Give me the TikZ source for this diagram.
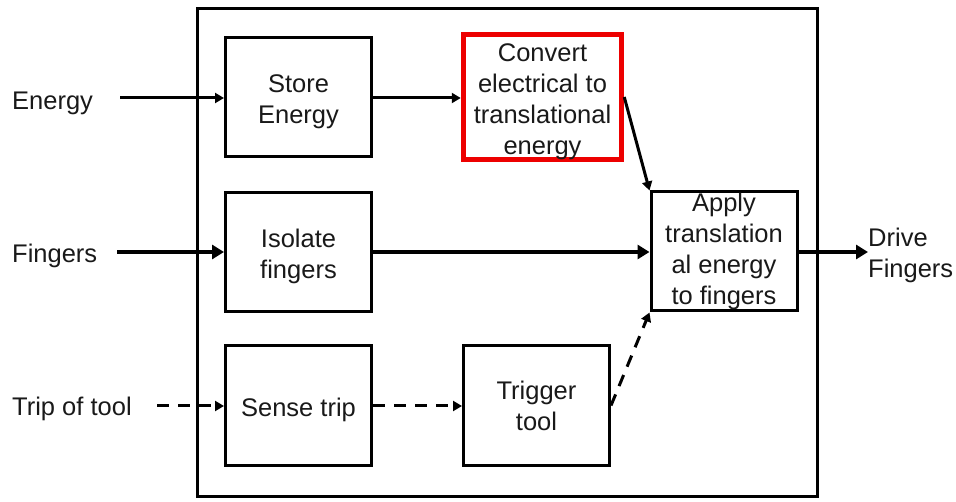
\documentclass[tikz,border=0pt]{standalone}
\usepackage{fontspec}
\setmainfont{Liberation Sans}
\usetikzlibrary{arrows.meta}
\definecolor{HiClr}{rgb}{0.93,0,0}
\definecolor{TxtClr}{rgb}{0.1,0.1,0.1}
\newcommand\topgap{\rule{0pt}{27pt}}

\begin{document}
\begin{tikzpicture}[x=1pt,y=-1pt,
  fn/.style={draw=black,line width=3pt,minimum width=146pt,minimum height=119pt,
    align=center,text=TxtClr,font=\fontsize{25.5}{31}\selectfont,inner sep=0pt},
  hi/.style={fn,draw=HiClr,line width=5.5pt,minimum width=158pt,minimum height=123pt},
  lbl/.style={text=TxtClr,font=\fontsize{25.5}{31}\selectfont,align=left,inner sep=0pt},
  flow/.style={line width=3pt,-{Triangle[length=9pt,width=10pt]}},
  thick flow/.style={line width=4.5pt,-{Triangle[length=12pt,width=14pt]}},
  sig/.style={flow,dash pattern=on 12pt off 9pt}]
\useasboundingbox (0,0) rectangle (956,502);

% system boundary
\draw[line width=3pt] (197,9) rectangle (817,496);

% functions
\node[fn] (se) at (298.5,97.5) {\topgap Store\\Energy};
\node[hi] (cv) at (542.5,97) {\topgap Convert\\electrical to\\translational\\energy};
\node[fn] (is) at (298.5,252) {\topgap Isolate\\fingers};
\node[fn] (ap) at (724,251.5) {Apply\\translation\\al energy\\to fingers};
\node[fn] (st) at (298.5,405.5) {\topgap Sense trip};
\node[fn] (tr) at (536.5,405.5) {Trigger\\tool};

% inputs and output
\node[lbl,anchor=west] (en) at (12,103) {Energy};
\node[lbl,anchor=west] (fi) at (12,256) {Fingers};
\node[lbl,anchor=west] (tp) at (12,409) {Trip of tool};
\node[lbl,anchor=west] (df) at (868,255.5) {Drive\\Fingers};
\coordinate (enR) at (120,98);
\coordinate (fiR) at (117,252);
\coordinate (tpR) at (157,406);

% flows
\draw[flow] (enR) -- (se.west|-enR);
\draw[flow] (se.east|-enR) -- (cv.west|-enR);
\draw[flow] (cv.east) -- (ap.north west);
\draw[thick flow] (fiR) -- (is.west|-fiR);
\draw[thick flow] (is.east|-fiR) -- (ap.west|-fiR);
\draw[thick flow] (ap.east|-fiR) -- (df.west|-fiR);
\draw[sig] (tpR) -- (st.west|-tpR);
\draw[sig] (st.east|-tpR) -- (tr.west|-tpR);
\draw[sig] (tr.east) -- (ap.south west);

\end{tikzpicture}
\end{document}
